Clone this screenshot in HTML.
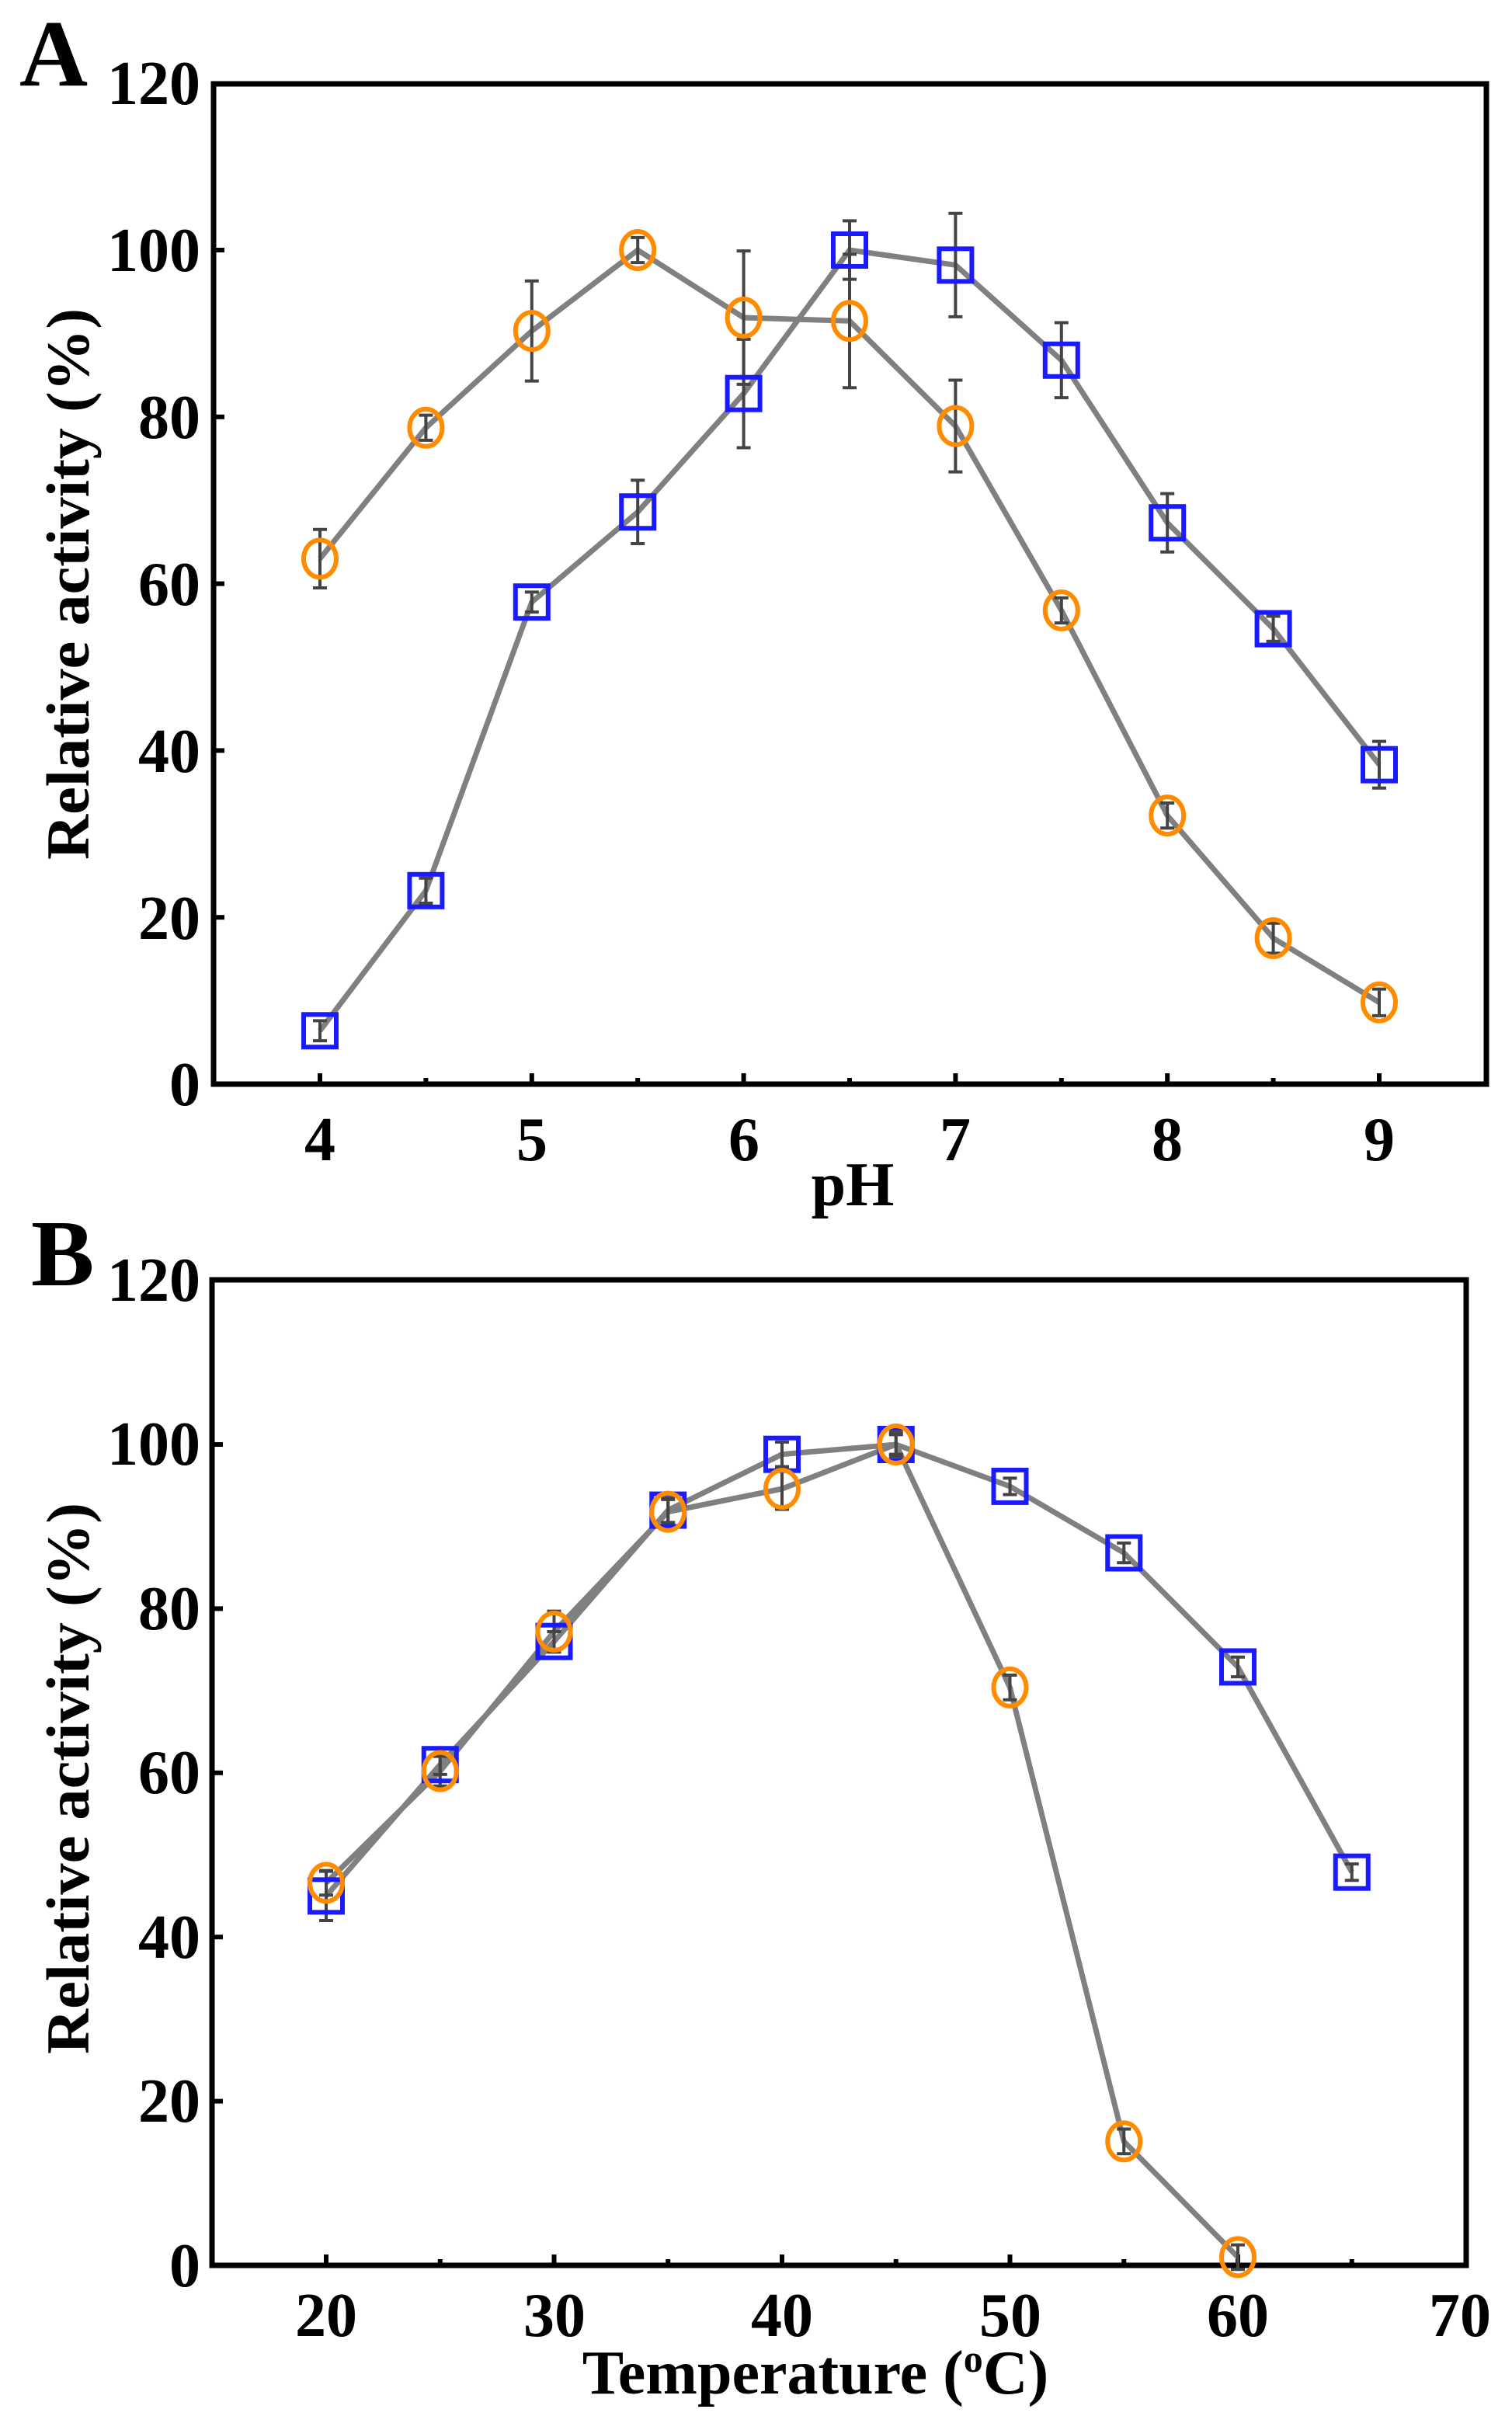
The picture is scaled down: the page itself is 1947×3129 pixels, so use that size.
<!DOCTYPE html>
<html><head><meta charset="utf-8"><style>
html,body{margin:0;padding:0;background:#fff;}
svg{display:block;}
text{font-family:"Liberation Serif",serif;font-weight:bold;fill:#000;}
</style></head><body>
<svg id="s" width="1947" height="3129" viewBox="0 0 1947 3129" xmlns="http://www.w3.org/2000/svg">
<rect width="1947" height="3129" fill="#fff"/>
<text x="25" y="110" font-size="122">A</text>
<text x="40" y="1655" font-size="122">B</text>
<g font-size="80" text-anchor="end">
<text x="258" y="134">120</text><text x="258" y="349">100</text><text x="258" y="564">80</text><text x="258" y="779">60</text><text x="258" y="994">40</text><text x="258" y="1209">20</text><text x="258" y="1423">0</text>
<text x="258" y="1675">120</text><text x="258" y="1886">100</text><text x="258" y="2098">80</text><text x="258" y="2309">60</text><text x="258" y="2521">40</text><text x="258" y="2732">20</text><text x="258" y="2944">0</text>
</g>
<g font-size="80" text-anchor="middle">
<text x="412" y="1494">4</text><text x="685" y="1494">5</text><text x="958" y="1494">6</text><text x="1230" y="1494">7</text><text x="1503" y="1494">8</text><text x="1776" y="1494">9</text>
<text x="420" y="3008">20</text><text x="714" y="3008">30</text><text x="1007" y="3008">40</text><text x="1301" y="3008">50</text><text x="1594" y="3008">60</text><text x="1880" y="3008">70</text>
<text x="1098" y="1552">pH</text>
<text x="1050" y="3082">Temperature (<tspan font-size="50" dy="-28">o</tspan><tspan dy="28">C)</tspan></text>
</g>
<text font-size="78" text-anchor="middle" textLength="710" lengthAdjust="spacingAndGlyphs" transform="translate(114,752) rotate(-90)">Relative activity (%)</text>
<text font-size="78" text-anchor="middle" textLength="710" lengthAdjust="spacingAndGlyphs" transform="translate(114,2290) rotate(-90)">Relative activity (%)</text>
<g id="g"></g>
</svg>
<script>
var g=document.getElementById('g'),NS='http://www.w3.org/2000/svg';
function el(t,a){var e=document.createElementNS(NS,t);for(var k in a)e.setAttribute(k,a[k]);g.appendChild(e);return e;}
function panel(P){
 var X=function(v){return P.x0+(v-P.v0)*P.sx},Y=function(v){return P.y0-v*P.sy};
 el('rect',{x:P.L,y:P.T,width:P.R-P.L,height:P.B-P.T,fill:'none',stroke:'#000','stroke-width':7});
 for(var v=0;v<=100;v+=20)el('line',{x1:P.L,x2:P.L+14,y1:Y(v),y2:Y(v),stroke:'#000','stroke-width':6});
 P.xt.forEach(function(v,i){el('line',{x1:X(v),x2:X(v),y1:P.B,y2:P.B-(i%2?8:14),stroke:'#000','stroke-width':6});});
 P.series.forEach(function(s){
  var pts=s.d.map(function(d){return X(d[0])+','+Y(d[1])}).join(' ');
  el('polyline',{points:pts,fill:'none',stroke:'#808080','stroke-width':7});
 });
 P.series.forEach(function(s){
  s.d.forEach(function(d){var x=X(d[0]),e=d[2]||1.2;
   var y1=Y(d[1]+e),y2=Y(d[1]-e);
   el('line',{x1:x,x2:x,y1:y1,y2:y2,stroke:'#444','stroke-width':4});
   el('line',{x1:x-9,x2:x+9,y1:y1,y2:y1,stroke:'#444','stroke-width':4});
   el('line',{x1:x-9,x2:x+9,y1:y2,y2:y2,stroke:'#444','stroke-width':4});
  });
 });
 P.series.forEach(function(s){
  s.d.forEach(function(d){var x=X(d[0]),y=Y(d[1]);
   if(s.sq)el('rect',{x:x-21,y:y-21,width:42,height:42,fill:'none',stroke:'#1a1aff','stroke-width':6});
   else el('ellipse',{cx:x,cy:y,rx:21,ry:24,fill:'none',stroke:'#ff8c00','stroke-width':6});
  });
 });
}
panel({L:275,T:108,R:1914,B:1396,x0:412,v0:4,sx:272.8,y0:1396,sy:10.74,xt:[4,4.5,5,5.5,6,6.5,7,7.5,8,8.5,9],
series:[
{sq:true,d:[[4,6.4],[4.5,23.2,1.5],[5,57.8,1.2],[5.5,68.6,3.8],[6,82.8,6.5],[6.5,100,3.5],[7,98.2,6.2],[7.5,86.8,4.5],[8,67.3,3.5],[8.5,54.6,1.5],[9,38.3,2.8]]},
{sq:false,d:[[4,63,3.5],[4.5,78.7,1.5],[5,90.3,6],[5.5,100,1.5],[6,91.9,8],[6.5,91.5,8],[7,78.9,5.5],[7.5,56.8,1.5],[8,32.2,1.5],[8.5,17.5,1.8],[9,9.8,1.6]]}]});
panel({L:273,T:1648,R:1888,B:2917,x0:420,v0:20,sx:29.35,y0:2917,sy:10.57,xt:[20,25,30,35,40,45,50,55,60,65],
series:[
{sq:true,d:[[20,45,3],[25,61,1.2],[30,76,1.2],[35,92,1.5],[40,98.8,1.5],[45,100,1.2],[50,94.9,1],[55,86.8,1.2],[60,72.9,1.2],[65,47.9,1]]},
{sq:false,d:[[20,46.6,1.5],[25,60.2,1.8],[30,77.2,2.5],[35,91.8,1.5],[40,94.6,2.5],[45,100,1.5],[50,70.4,1.5],[55,15.1,1.5],[60,1,1.5]]}]});
</script>
</body></html>
